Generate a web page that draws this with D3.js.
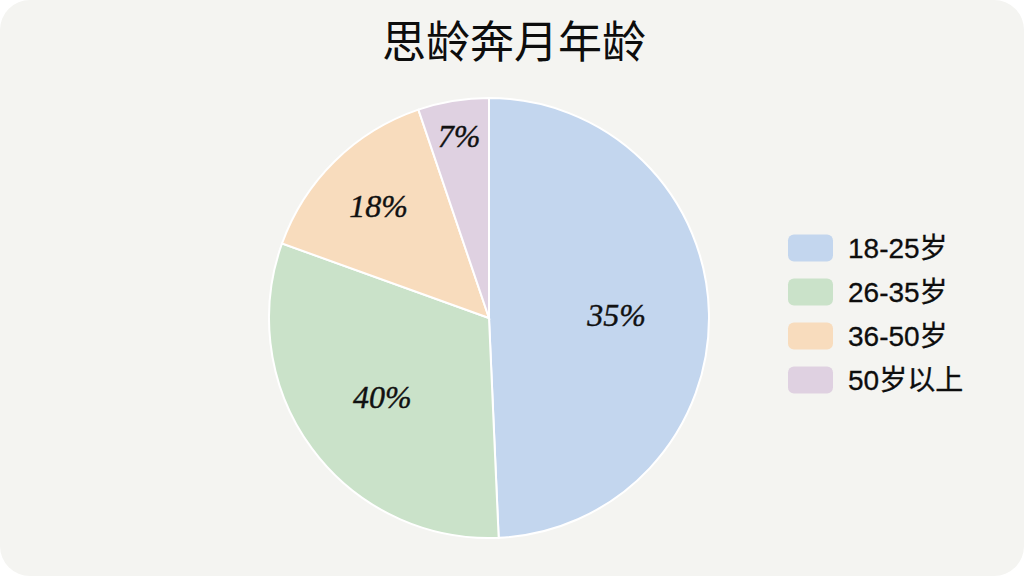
<!DOCTYPE html>
<html>
<head>
<meta charset="utf-8">
<script src="https://cdn.jsdelivr.net/npm/d3@7"></script>
<style>
  html, body { margin: 0; padding: 0; background: #ffffff; }
  #chart { width: 1024px; height: 576px; }
</style>
</head>
<body>
<div id="chart"></div>
<script>
// categories, drawn slice shares and printed labels
const categories = ["18-25岁", "26-35岁", "36-50岁", "50岁以上"];
const shares = [49.3, 31.2, 14.3, 5.2];
const labels = ["35%", "40%", "18%", "7%"];
const colors = ["#c3d6ee", "#cae2c9", "#f8dcbd", "#dfd1e1"];
const title = "思龄奔月年龄";

const width = 1024;
const height = 576;
const cx = 489;
const cy = 318;
const radius = 220;

const svg = d3.select("#chart")
  .append("svg")
  .attr("width", width)
  .attr("height", height);

// card background
svg.append("rect")
  .attr("x", 0)
  .attr("y", 0)
  .attr("width", width)
  .attr("height", height)
  .attr("rx", 30)
  .attr("fill", "#f4f4f1");

svg.append("text")
  .attr("x", 514)
  .attr("y", 58)
  .attr("text-anchor", "middle")
  .style("font-family", "'Noto Sans CJK SC', 'Noto Sans', sans-serif")
  .style("font-size", "44px")
  .style("fill", "#0d0d0d")
  .text(title);

const data = categories.map((c, i) => ({ label: c, value: shares[i], text: labels[i] }));

const pieGenerator = d3.pie()
  .sort(null)
  .value((d) => d.value);

const arcGenerator = d3.arc()
  .innerRadius(0)
  .outerRadius(radius);

const g = svg.append("g")
  .attr("transform", `translate(${cx}, ${cy})`);

const arcs = g.selectAll("g.slice")
  .data(pieGenerator(data))
  .enter()
  .append("g")
  .attr("class", "slice");

arcs.append("path")
  .attr("d", arcGenerator)
  .style("fill", (_, i) => colors[i])
  .style("stroke", "#ffffff")
  .style("stroke-width", 2);

// narrower slices get their label pushed further out
function labelPos(d) {
  const a = d.endAngle - d.startAngle;
  const t = Math.max(0, 1 - a / Math.PI);
  const r = radius * (0.58 + 0.35 * Math.pow(t, 2.8));
  const mid = (d.startAngle + d.endAngle) / 2;
  return [Math.sin(mid) * r, -Math.cos(mid) * r];
}

arcs.append("text")
  .attr("text-anchor", "middle")
  .attr("dominant-baseline", "central")
  .attr("transform", (d) => {
    const [x, y] = labelPos(d);
    return `translate(${x}, ${y})`;
  })
  .style("font-family", "'Liberation Serif', 'DejaVu Serif', serif")
  .style("font-style", "italic")
  .style("font-size", "32px")
  .style("fill", "#111111")
  .style("stroke", "#111111")
  .style("stroke-width", 0.4)
  .text((d) => d.data.text);

// legend
const legend = svg.append("g")
  .attr("transform", "translate(788, 248)");

const rowStep = 44;

const rows = legend.selectAll("g.row")
  .data(categories)
  .enter()
  .append("g")
  .attr("class", "row")
  .attr("transform", (_, i) => `translate(0, ${i * rowStep})`);

rows.append("rect")
  .attr("x", 0)
  .attr("y", -13.5)
  .attr("width", 45)
  .attr("height", 27)
  .attr("rx", 6)
  .style("fill", (_, i) => colors[i]);

rows.append("text")
  .attr("x", 60)
  .attr("y", 10)
  .style("font-family", "'Liberation Sans', 'Noto Sans CJK SC', sans-serif")
  .style("font-size", "28px")
  .style("fill", "#0d0d0d")
  .style("stroke", "#0d0d0d")
  .style("stroke-width", 0.3)
  .text((d) => d);
</script>
</body>
</html>
